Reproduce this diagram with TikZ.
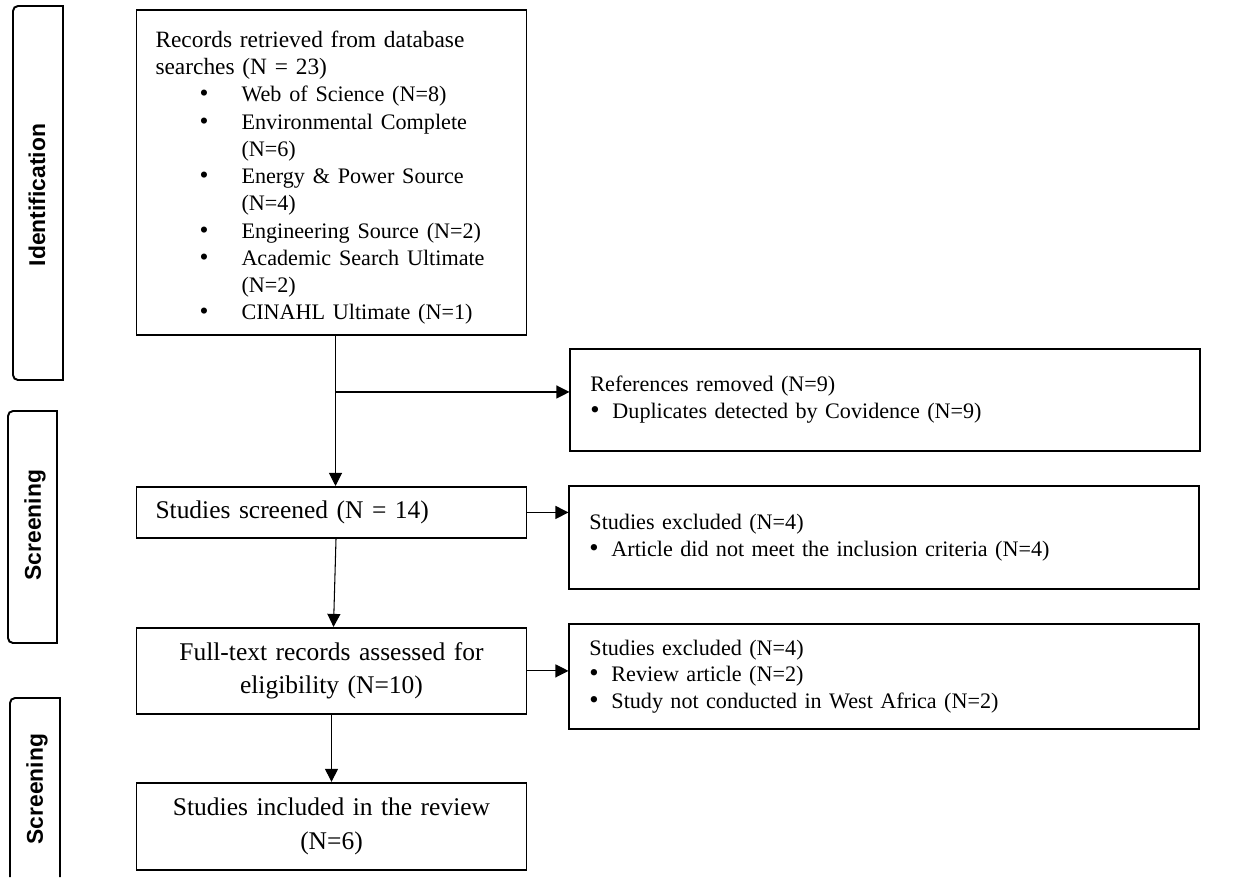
\documentclass[tikz,border=0pt]{standalone}
\usepackage{fontspec}
\setmainfont{Liberation Serif}
\newfontfamily\tabfont{Liberation Sans}
\usetikzlibrary{positioning,arrows.meta}

\newcommand{\srcitem}{\fontsize{12.6}{15.5}\selectfont\hspace*{0.88cm}\makebox[0.84cm][l]{\scalebox{1.15}{\textbullet}}}
\newcommand{\srccont}{\hspace*{1.72cm}}
\newcommand{\listbul}{\makebox[0.44cm][l]{\scalebox{1.2}{\textbullet}}}

\begin{document}
\begin{tikzpicture}[node distance = 1cm, auto,
	box/.style={draw, line width=1.1pt, inner ysep=0pt},
	leftbox/.style={box, minimum width=7.8cm, text width=7.04cm, inner xsep=0.38cm},
	rightbox/.style={box, minimum width=12.6cm, text width=11.8cm, inner xsep=0.4cm, align=left, font=\fontsize{12.6}{15.2}\selectfont},
	stagetab/.style={line width=1.1pt},
	tablabel/.style={rotate=90, font=\tabfont\bfseries\fontsize{13}{15}\selectfont},
	flow/.style={line width=0.6pt, -{Triangle[length=0.26cm, width=0.26cm]}}]

	\useasboundingbox (0,0) rectangle (24.78,-17.54);

	\node (records) [leftbox, minimum height=6.5cm, align=left, font=\fontsize{13.3}{15.5}\selectfont] at (6.63,-3.45) {\rule{0pt}{0.54cm}Records retrieved from database\\ searches (N = 23)\\ \srcitem Web of Science (N=8)\\ \srcitem Environmental Complete\\ \srccont (N=6)\\ \srcitem Energy \& Power Source\\ \srccont (N=4)\\ \srcitem Engineering Source (N=2)\\ \srcitem Academic Search Ultimate\\ \srccont (N=2)\\ \srcitem CINAHL Ultimate (N=1)};
	\node (screened) [leftbox, minimum height=1.02cm, align=left, font=\fontsize{14.5}{19.5}\selectfont, below=3cm of records] {Studies screened (N = 14)};
	\node (fulltext) [leftbox, minimum height=1.72cm, align=center, font=\fontsize{14.5}{18.8}\selectfont, below=1.76cm of screened] {Full-text records assessed for\\ eligibility (N=10)};
	\node (included) [leftbox, minimum height=1.74cm, align=center, font=\fontsize{14.5}{19.8}\selectfont, below=1.34cm of fulltext] {Studies included in the review\\ (N=6)};

	\node (removed) [rightbox, minimum height=2.04cm, below right=0.24cm and 0.84cm of records.south east] {References removed (N=9)\\ \listbul Duplicates detected by Covidence (N=9)};
	\node (excluded1) [rightbox, minimum height=2.06cm, below right=-0.02cm and 0.82cm of screened.north east] {Studies excluded (N=4)\\ \listbul Article did not meet the inclusion criteria (N=4)};
	\node (excluded2) [rightbox, minimum height=2.1cm, below right=-0.08cm and 0.82cm of fulltext.north east, font=\fontsize{12.6}{15}\selectfont] {Studies excluded (N=4)\\ \listbul Review article (N=2)\\ \listbul Study not conducted in West Africa (N=2)};

	\coordinate [below=1.12cm of records.south, xshift=0.08cm] (split);

	\path[flow] ([xshift=0.08cm]records.south) edge ([xshift=0.08cm]screened.north);
	\path[flow] (split) edge (split -| removed.west);
	\path[flow] ([xshift=0.09cm]screened.south) edge ([xshift=0.04cm]fulltext.north);
	\path[flow] (fulltext) edge (included);
	\path[flow] (screened.east) edge (screened.east -| excluded1.west);
	\path[flow] (fulltext.east) edge (fulltext.east -| excluded2.west);

	\draw[stagetab] (1.26,-0.12) -- (0.36,-0.12) arc[start angle=90, end angle=180, radius=0.1] -- (0.26,-7.5) arc[start angle=180, end angle=270, radius=0.1] -- (1.26,-7.6) -- cycle;
	\draw[stagetab] (1.14,-8.22) -- (0.26,-8.22) arc[start angle=90, end angle=180, radius=0.1] -- (0.16,-12.76) arc[start angle=180, end angle=270, radius=0.1] -- (1.14,-12.86) -- cycle;
	\draw[stagetab] (1.2,-17.54) -- (1.2,-13.96) -- (0.3,-13.96) arc[start angle=90, end angle=180, radius=0.1] -- (0.2,-17.54);

	\node (identification) [tablabel] at (0.74,-3.9) {Identification};
	\node (screening) [tablabel] at (0.7,-10.5) {Screening};
	\node (inclusion) [tablabel] at (0.74,-15.78) {Screening};

\end{tikzpicture}
\end{document}
